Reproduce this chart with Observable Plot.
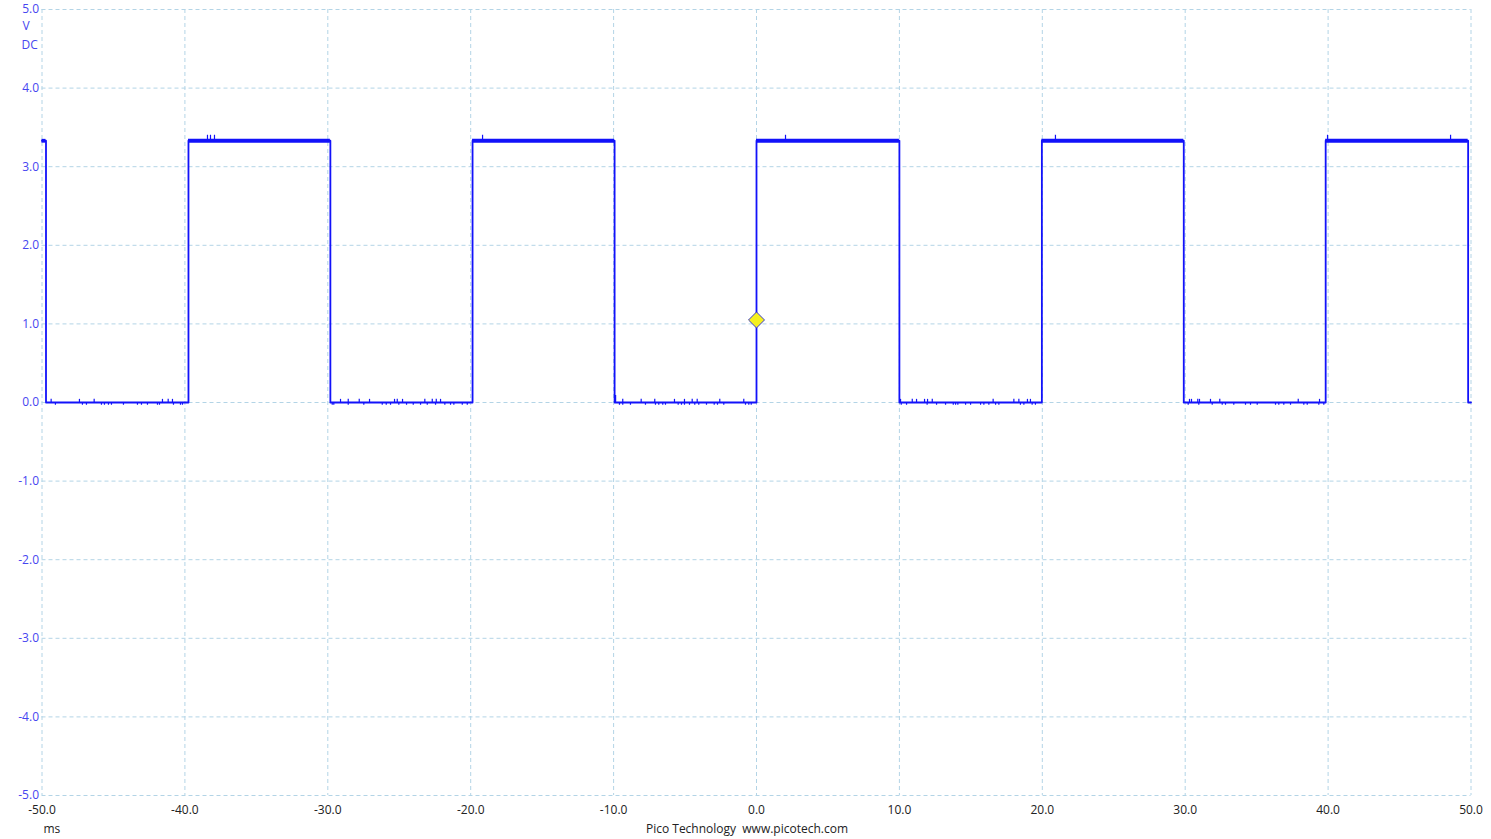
<!DOCTYPE html>
<html><head><meta charset="utf-8">
<script src="https://cdn.jsdelivr.net/npm/d3@7"></script>
<script src="https://cdn.jsdelivr.net/npm/@observablehq/plot@0.6"></script>
<style>html,body{margin:0;padding:0;background:#fff;overflow:hidden}</style>
</head><body><div id="chart"></div>
<script>
// ---- data ----
const xTicks = [-50, -40, -30, -20, -10, 0, 10, 20, 30, 40, 50];
const yTicks = [-5, -4, -3, -2, -1, 0, 1, 2, 3, 4, 5];
const highLevel = 3.33;
const lowLevel = 0;
// transition times (ms); the first one is a falling edge, then alternating
const edgeTimes = [-49.72, -39.75, -29.82, -19.87, -9.93, 0, 10.0, 19.97, 29.9, 39.83, 49.8];
// noise spikes on the low level (ms)
const lowUpTimes = [-49.36, -47.38, -46.35, -41.57, -41.17, -40.87,
  -29.11, -28.57, -27.80, -27.08, -25.33, -25.14, -24.77, -23.21, -22.69, -22.41, -22.11,
  -9.36, -8.07, -7.12, -5.74, -5.04, -4.50, -4.15, -2.57, -0.89,
  10.08, 10.90, 11.20, 11.76, 11.97, 12.30, 16.56, 18.01, 18.36, 18.96, 19.17,
  30.30, 30.44, 30.88, 31.00, 31.77, 32.42, 37.91, 39.40];
const lowDownTimes = [-49.06, -47.17, -46.89, -45.84, -45.63, -45.35, -45.14, -44.30, -43.32, -43.04, -42.62, -41.92, -41.78, -40.80, -40.31, -40.17,
  -29.69, -29.58, -28.57, -27.48, -26.19, -25.91, -25.61, -25.03, -24.49, -24.02, -23.51, -23.04, -22.46, -21.81, -21.41, -21.18, -20.59, -20.24,
  -9.59, -9.36, -8.82, -7.77, -7.07, -6.84, -6.56, -6.37, -5.48, -5.25, -5.04, -4.69, -4.32, -4.04, -3.50, -2.96, -2.73, -2.29, -0.77, -0.54, -0.37,
  10.13, 10.50, 11.94, 12.60, 13.23, 13.77, 13.93, 14.09, 14.63, 14.98, 15.68, 15.91, 16.26, 16.73, 16.96, 18.47, 18.71, 19.29, 19.52,
  30.21, 30.95, 31.89, 32.59, 32.82, 33.40, 34.22, 34.57, 35.04, 36.32, 36.55, 36.90, 37.37, 38.30, 38.54, 39.35, 39.70];
const lowUpValue = 0.04;
const lowDownValue = -0.035;
const bigSpikeTimes = [-9.87];
const bigSpikeValue = 0.09;
// noise spikes on the high level (ms)
const highUpTimes = [-38.42, -38.21, -37.93, -19.17, 2.03, 20.92, 39.96, 48.57];
const highUpValue = 3.40;
const triggerTime = 0;
const triggerLevel = 1.05;

// ---- build trace ----
const trace = [{t: -50, v: highLevel}];
let level = highLevel;
const highSegs = [];
let segStart = -50;
edgeTimes.forEach((t, i) => {
  trace.push({t, v: level});
  const next = (i % 2 === 0) ? lowLevel : highLevel;
  if (level === highLevel) highSegs.push({x1: segStart, x2: t});
  trace.push({t, v: next});
  level = next;
  segStart = t;
});
trace.push({t: 50, v: level});
if (level === highLevel) highSegs.push({x1: segStart, x2: 50});

const blue = "#1212fa";
const gridColor = "#b3d4e6";
const font = "'Open Sans', 'Noto Sans', sans-serif";

const chart = Plot.plot({
  width: 1491,
  height: 839,
  marginLeft: 41.5,
  marginRight: 20.5,
  marginTop: 9,
  marginBottom: 44,
  style: {fontFamily: font, fontSize: "12px", background: "#fff"},
  x: {domain: [-50, 50]},
  y: {domain: [-5, 5]},
  marks: [
    Plot.gridX(xTicks, {stroke: gridColor, strokeOpacity: 1, strokeDasharray: "4,3"}),
    Plot.gridY(yTicks, {stroke: gridColor, strokeOpacity: 1, strokeDasharray: "4,3"}),
    Plot.axisX(xTicks, {tickSize: 0, tickPadding: 10, tickFormat: d => d.toFixed(1), fill: "#222", fontSize: 12, label: null}),
    Plot.axisY(yTicks, {tickSize: 0, tickPadding: 3, tickFormat: d => d.toFixed(1), fill: "#4646f0", fontSize: 12, label: null}),
    Plot.ruleX(lowUpTimes, {x: d => d, y1: lowLevel, y2: lowUpValue, stroke: blue, strokeWidth: 1.2}),
    Plot.ruleX(lowDownTimes, {x: d => d, y1: lowLevel, y2: lowDownValue, stroke: blue, strokeWidth: 1.2}),
    Plot.ruleX(bigSpikeTimes, {x: d => d, y1: lowLevel, y2: bigSpikeValue, stroke: blue, strokeWidth: 1.5}),
    Plot.ruleX(highUpTimes, {x: d => d, y1: highLevel, y2: highUpValue, stroke: blue, strokeWidth: 1.2}),
    Plot.line(trace, {x: "t", y: "v", stroke: blue, strokeWidth: 1.8}),
    Plot.ruleY(highSegs, {x1: "x1", x2: "x2", y: () => highLevel, stroke: blue, strokeWidth: 3.8}),
    Plot.dot([{t: triggerTime, v: triggerLevel}], {x: "t", y: "v", symbol: "diamond2", r: 7.2, fill: "#f5f01e", stroke: "#3a3ad0", strokeWidth: 1}),
    Plot.text(["V"], {frameAnchor: "top-left", dx: -19.5, dy: 16.5, textAnchor: "start", lineAnchor: "middle", fill: "#4646f0", fontSize: 12}),
    Plot.text(["DC"], {frameAnchor: "top-left", dx: -20.5, dy: 35.5, textAnchor: "start", lineAnchor: "middle", fill: "#4646f0", fontSize: 12}),
    Plot.text(["ms"], {frameAnchor: "bottom-left", dx: 1.5, dy: 34, textAnchor: "start", lineAnchor: "middle", fill: "#222", fontSize: 12}),
    Plot.text(["Pico Technology  www.picotech.com"], {frameAnchor: "bottom", dx: -9.5, dy: 34, textAnchor: "middle", lineAnchor: "middle", fill: "#222", fontSize: 12})
  ]
});
document.getElementById("chart").append(chart);
</script>
</body></html>
